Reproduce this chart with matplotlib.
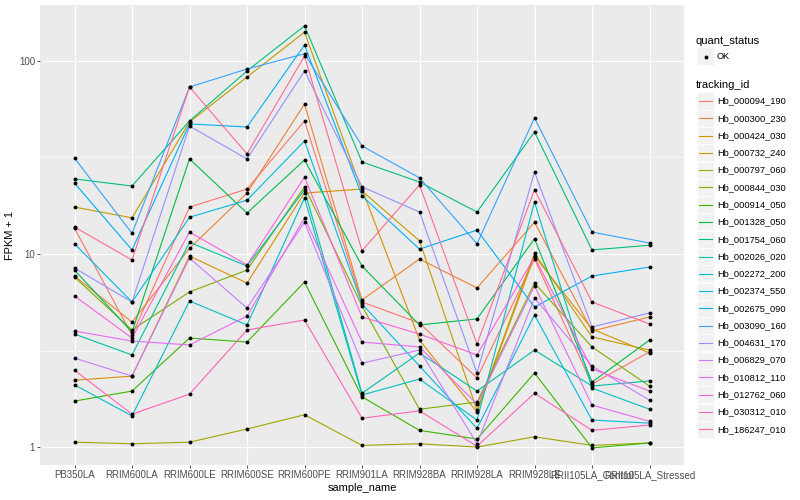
import numpy as np
import matplotlib.pyplot as plt
from matplotlib.patches import Rectangle
from matplotlib.lines import Line2D
from matplotlib.ticker import NullLocator

plt.rcParams['font.family'] = ['Liberation Sans', 'DejaVu Sans']

samples = ['PB350LA', 'RRIM600LA', 'RRIM600LE', 'RRIM600SE', 'RRIM600PE',
           'RRIM901LA', 'RRIM928BA', 'RRIM928LA', 'RRIM928LE',
           'RRII105LA_Control', 'RRII105LA_Stressed']

tracking_ids = ['Hb_000094_190', 'Hb_000300_230', 'Hb_000424_030', 'Hb_000732_240',
                'Hb_000797_060', 'Hb_000844_030', 'Hb_000914_050', 'Hb_001328_050',
                'Hb_001754_060', 'Hb_002026_020', 'Hb_002272_200', 'Hb_002374_550',
                'Hb_002675_090', 'Hb_003090_160', 'Hb_004631_170', 'Hb_006829_070',
                'Hb_010812_110', 'Hb_012762_060', 'Hb_030312_010', 'Hb_186247_010']

# ggplot default hue palette, 20 levels
colors = ['#F8766D', '#EA8331', '#D89000', '#C09B00', '#A3A500', '#7CAE00', '#39B600',
          '#00BB4E', '#00BF7D', '#00C1A3', '#00BFC4', '#00BAE0', '#00B0F6', '#35A2FF',
          '#9590FF', '#C77CFF', '#E76BF3', '#FA62DB', '#FF62BC', '#FF6C91']

# FPKM + 1 per sample
hb_000094_190 = [13.6, 3.80, 17.5, 21.7, 48.9, 5.64, 4.39, 2.28, 9.42, 2.12, 3.11]
hb_000300_230 = [7.69, 4.44, 10.7, 20.7, 59.8, 5.78, 9.42, 6.67, 14.6, 3.99, 4.72]
hb_000424_030 = [2.22, 2.33, 9.76, 7.07, 20.7, 21.7, 3.58, 1.52, 9.76, 4.09, 3.07]
hb_000732_240 = [17.5, 15.4, 48.3, 82.6, 141, 21.2, 11.7, 1.55, 10.1, 3.72, 3.18]
hb_000797_060 = [1.06, 1.04, 1.06, 1.24, 1.47, 1.02, 1.04, 1.00, 1.13, 1.02, 1.05]
hb_000844_030 = [7.60, 4.04, 6.36, 8.26, 22.3, 5.38, 1.57, 1.71, 7.07, 3.30, 2.07]
hb_000914_050 = [1.73, 1.95, 3.67, 3.50, 7.16, 1.82, 1.22, 1.10, 2.42, 0.99, 1.05]
hb_001328_050 = [8.26, 3.94, 31.1, 16.3, 30.7, 8.66, 4.29, 4.61, 12.0, 2.17, 3.58]
hb_001754_060 = [24.5, 22.5, 48.9, 88.8, 152, 30.0, 23.6, 16.5, 42.9, 10.5, 11.1]
hb_002026_020 = [3.85, 3.00, 11.5, 8.66, 21.5, 1.90, 3.07, 1.95, 3.18, 2.07, 2.20]
hb_002272_200 = [2.10, 1.45, 5.71, 4.29, 19.5, 1.86, 2.25, 1.38, 18.6, 2.02, 1.57]
hb_002374_550 = [11.3, 5.64, 15.5, 19.0, 38.5, 5.51, 2.63, 1.25, 4.83, 1.38, 1.33]
hb_002675_090 = [23.3, 10.5, 47.2, 45.5, 121, 20.0, 10.6, 13.3, 5.31, 7.69, 8.56]
hb_003090_160 = [31.4, 12.8, 73.3, 90.9, 109, 36.3, 24.8, 11.3, 50.7, 13.0, 11.4]
hb_004631_170 = [8.46, 5.64, 46.0, 31.1, 88.8, 22.3, 16.5, 2.42, 26.6, 4.19, 4.95]
hb_006829_070 = [2.89, 2.33, 9.53, 5.25, 14.6, 2.72, 3.18, 1.04, 5.92, 2.63, 1.75]
hb_010812_110 = [3.99, 3.54, 3.38, 4.77, 15.4, 3.50, 3.30, 1.67, 6.83, 1.65, 1.36]
hb_012762_060 = [6.06, 3.67, 13.0, 8.77, 25.0, 4.72, 3.85, 3.00, 9.65, 2.54, 1.95]
hb_030312_010 = [2.50, 1.48, 1.88, 4.04, 4.55, 1.41, 1.54, 1.01, 1.90, 1.22, 1.30]
hb_186247_010 = [13.8, 9.31, 73.3, 33.0, 106, 10.4, 22.8, 3.42, 21.5, 5.64, 4.34]

series = [hb_000094_190, hb_000300_230, hb_000424_030, hb_000732_240, hb_000797_060,
          hb_000844_030, hb_000914_050, hb_001328_050, hb_001754_060, hb_002026_020,
          hb_002272_200, hb_002374_550, hb_002675_090, hb_003090_160, hb_004631_170,
          hb_006829_070, hb_010812_110, hb_012762_060, hb_030312_010, hb_186247_010]

W, H = 800, 500
fig = plt.figure(figsize=(8, 5), dpi=100)
fig.patch.set_facecolor('white')


def fx(px):
    return px / W


def fy(py):
    return 1 - py / H


ax = fig.add_axes([fx(40), fy(465), (684 - 40) / W, (465 - 5) / H])
ax.set_facecolor('#EBEBEB')
for s in ax.spines.values():
    s.set_visible(False)

x = np.arange(len(samples))
ax.set_yscale('log')
ax.set_xlim(-0.6, len(samples) - 0.4)
ax.set_ylim(10 ** -0.093, 10 ** 2.29)

# grid
for v in [10 ** 0.5, 10 ** 1.5]:
    ax.axhline(v, color='white', lw=0.45, zorder=0)
for v in [1, 10, 100]:
    ax.axhline(v, color='white', lw=0.85, zorder=0)
for xi in x:
    ax.axvline(xi, color='white', lw=0.85, zorder=0)

for i, vals in enumerate(series):
    ax.plot(x, vals, color=colors[i], lw=0.8, zorder=2)
for vals in series:
    ax.plot(x, vals, 'o', color='black', ms=2.8, zorder=3, mec='none')

ax.set_yticks([1, 10, 100])
ax.set_yticklabels(['1', '10', '100'])
ax.yaxis.set_minor_locator(NullLocator())
ax.set_xticks(x)
ax.set_xticklabels(samples)
ax.tick_params(axis='both', labelsize=7, labelcolor='#4D4D4D', color='#333333',
               length=2, width=0.6, pad=1.6)
ax.set_xlabel('sample_name', fontsize=7.9, labelpad=2)
ax.set_ylabel('FPKM + 1', fontsize=7.9, labelpad=3)

# legends, drawn by hand like ggplot guides
key_w, key_h = 17, 17
lx = 697
fig.text(fx(696), fy(41), 'quant_status', fontsize=8, va='center', ha='left')
fig.add_artist(Rectangle((fx(lx), fy(56 + key_h / 2)), key_w / W, key_h / H,
                         facecolor='#F2F2F2', edgecolor='white', lw=0.5))
fig.add_artist(Line2D([fx(lx + key_w / 2)], [fy(56.5)], marker='o', color='black',
                      ms=2.8, mec='none'))
fig.text(fx(717), fy(56.5), 'OK', fontsize=6.7, va='center', ha='left')

fig.text(fx(696), fy(85), 'tracking_id', fontsize=8, va='center', ha='left')
for i, tid in enumerate(tracking_ids):
    yc = 101 + i * 17.28
    fig.add_artist(Rectangle((fx(lx), fy(yc + key_h / 2)), key_w / W, key_h / H,
                             facecolor='#F2F2F2', edgecolor='white', lw=0.5))
    fig.add_artist(Line2D([fx(lx + 2), fx(lx + key_w - 2)], [fy(yc), fy(yc)],
                          color=colors[i], lw=0.8))
    fig.text(fx(717), fy(yc), tid, fontsize=6.7, va='center', ha='left')

fig.savefig('out.png', dpi=100)
